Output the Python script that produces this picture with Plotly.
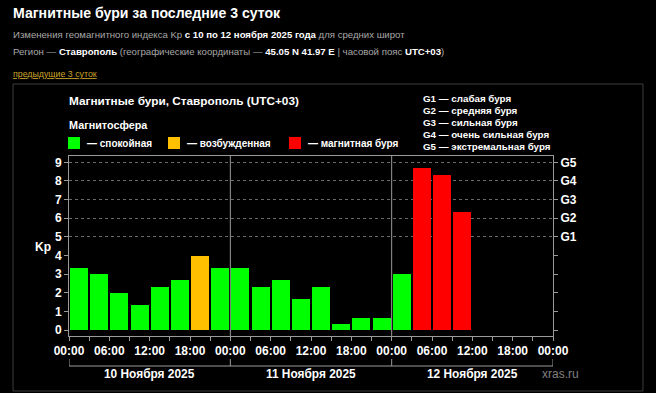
import plotly.graph_objects as go

# ---- data ----
kp_values = [3.33, 3.0, 2.0, 1.33, 2.33, 2.67, 4.0, 3.33,
             3.33, 2.33, 2.67, 1.67, 2.33, 0.33, 0.67, 0.67,
             3.0, 8.67, 8.33, 6.33]
bin_hours = 3
day_labels = ["10 Ноября 2025", "11 Ноября 2025", "12 Ноября 2025"]
hour_tick_labels = ["00:00", "06:00", "12:00", "18:00"] * 3 + ["00:00"]
kp_ticks = list(range(0, 10))
g_levels = ["G1", "G2", "G3", "G4", "G5"]
g_descr = ["слабая буря", "средняя буря", "сильная буря", "очень сильная буря", "экстремальная буря"]
state_labels = ["— спокойная", "— возбужденная", "— магнитная буря"]
state_colors = ["#00ff00", "#ffc000", "#ff0000"]

W, H = 656, 393
def px(x): return x / W
def py(y): return 1 - y / H

FONT = "Liberation Sans, Arial, sans-serif"
AX = "#9a9a9a"
GRAY = "#a8a8a8"

def color_for(v):
    if v < 4: return state_colors[0]
    if v < 5: return state_colors[1]
    return state_colors[2]

x_centers = [bin_hours * i + bin_hours / 2 for i in range(len(kp_values))]
total_hours = 24 * len(day_labels)

fig = go.Figure()
fig.add_trace(go.Bar(
    x=x_centers, y=kp_values, width=bin_hours * 0.89,
    marker=dict(color=[color_for(v) for v in kp_values], line=dict(width=0)),
    showlegend=False, hoverinfo="y"))
fig.add_trace(go.Scatter(x=[0], y=[0], yaxis="y2", mode="markers",
                         marker=dict(opacity=0), showlegend=False, hoverinfo="skip"))

tick_vals = list(range(0, total_hours + 1, 6))
minor_vals = list(range(3, total_hours, 6))
yr = [-0.32, 9.34]

fig.update_layout(
    template="none",
    width=W, height=H, autosize=False,
    margin=dict(l=0, r=0, t=0, b=0, pad=0, autoexpand=False),
    paper_bgcolor="black", plot_bgcolor="black",
    font=dict(family=FONT, color="white"),
    bargap=0,
    xaxis=dict(domain=[px(69), px(553)], range=[0, total_hours], automargin=False,
               tickmode="array", tickvals=tick_vals, ticktext=hour_tick_labels,
               ticks="outside", ticklen=4, tickcolor=AX, tickwidth=1,
               minor=dict(tickmode="array", tickvals=minor_vals, ticks="outside",
                          ticklen=4, tickcolor=AX, showgrid=False),
               tickfont=dict(size=12, color="white", weight="bold"),
               showline=True, linecolor=AX, linewidth=1, mirror=True,
               showgrid=False, zeroline=False, fixedrange=True),
    yaxis=dict(domain=[py(336), py(156)], range=yr, automargin=False,
               tickmode="array", tickvals=kp_ticks, ticktext=[str(v) for v in kp_ticks],
               ticks="outside", ticklen=4, tickcolor=AX,
               tickfont=dict(size=12, color="white", weight="bold"),
               showline=True, linecolor=AX, linewidth=1,
               showgrid=False, zeroline=False, fixedrange=True),
    yaxis2=dict(overlaying="y", side="right", range=yr, automargin=False,
                tickmode="array", tickvals=[5, 6, 7, 8, 9], ticktext=g_levels,
                ticks="outside", ticklen=4, tickcolor=AX,
                minor=dict(tickmode="array", tickvals=[0, 1, 2, 3, 4], ticks="outside",
                           ticklen=4, tickcolor=AX, showgrid=False),
                tickfont=dict(size=12, color="white", weight="bold"),
                showline=True, linecolor=AX, linewidth=1,
                showgrid=True, gridcolor="#6a6a6a", griddash="dot", gridwidth=1,
                zeroline=False, fixedrange=True),
)

shapes = []
# outer frame
shapes.append(dict(type="rect", xref="paper", yref="paper",
                   x0=px(13), x1=px(643), y0=py(391), y1=py(84),
                   line=dict(color="#3c3c3c", width=1), layer="below"))
# day separators
for d in range(1, len(day_labels)):
    shapes.append(dict(type="line", xref="x", yref="paper", x0=24 * d, x1=24 * d,
                       y0=py(336), y1=py(156), line=dict(color=AX, width=1)))
# day bracket
shapes.append(dict(type="line", xref="x", yref="paper", x0=0, x1=total_hours,
                   y0=py(366), y1=py(366), line=dict(color=AX, width=1)))
for d in range(len(day_labels) + 1):
    shapes.append(dict(type="line", xref="x", yref="paper", x0=24 * d, x1=24 * d,
                       y0=py(366), y1=py(359), line=dict(color=AX, width=1)))
# legend squares
sq_x = [68, 168, 289]
for xx, c in zip(sq_x, state_colors):
    shapes.append(dict(type="rect", xref="paper", yref="paper",
                       x0=px(xx), x1=px(xx + 12), y0=py(149), y1=py(137),
                       fillcolor=c, line=dict(width=0)))

ann = []
def text(x, y, s, size, color="white", anchor="left", xref="paper"):
    ann.append(dict(xref=xref, yref="paper", x=x if xref != "paper" else px(x), y=py(y),
                    text=s, showarrow=False, xanchor=anchor, yanchor="middle",
                    font=dict(family=FONT, size=size, color=color)))

text(11, 13, "<b>Магнитные бури за последние 3 суток</b>", 14.1)
text(11, 35, "Изменения геомагнитного индекса Kp <span style='color:white'><b>с 10 по 12 ноября 2025 года</b></span> для средних широт", 9.6, GRAY)
text(11, 51, "Регион — <span style='color:white'><b>Ставрополь</b></span> (географические координаты — <span style='color:white'><b>45.05 N 41.97 E</b></span> | часовой пояс <span style='color:white'><b>UTC+03</b></span>)", 9.65, GRAY)
text(11, 74, "<span style='text-decoration:underline'>предыдущие 3 суток</span>", 8.8, "#c9a227")

text(67, 101, "<b>Магнитные бури, Ставрополь (UTC+03)</b>", 11.8)
text(67, 125, "<b>Магнитосфера</b>", 10.8)
for xx, lab in zip(sq_x, state_labels):
    text(xx + 17, 143, "<b>" + lab + "</b>", 10)
for i, (g, dsc) in enumerate(zip(g_levels, g_descr)):
    text(421, 99 + i * 11.75, "<b>" + g + " — " + dsc + "</b>", 9.8)

text(43, 247, "<b>Kp</b>", 12, anchor="center")
for d, lab in enumerate(day_labels):
    text(24 * d + 12, 374, "<b>" + lab + "</b>", 11.9, anchor="center", xref="x")
text(560, 374, "xras.ru", 12, "#808080", anchor="center")

fig.update_layout(shapes=shapes, annotations=ann)
fig.write_html(
    "out.html",
    config={"displayModeBar": False, "staticPlot": False},
    post_script="document.body.style.margin='0px';document.body.style.background='black';",
)
